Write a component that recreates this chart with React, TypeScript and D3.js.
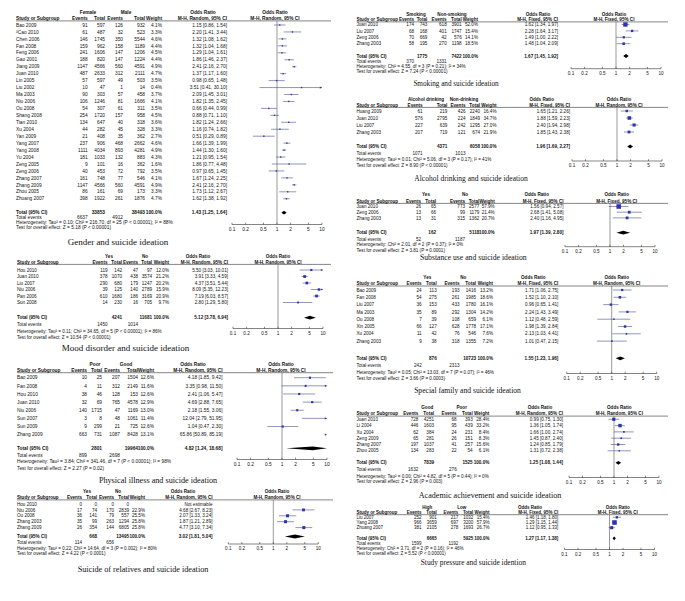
import React from "react";
import * as d3 from "d3";

type Row = [string, number, number, number, number, number | null, number | null, number | null, number | null];

// ---------- DATA ----------
const TICK_VALUES = [0.1, 0.2, 0.5, 1, 2, 5, 10];
const TICK_LABELS = ["0.1", "0.2", "0.5", "1", "2", "5", "10"];

const genderRows: Row[] = [
  ["Bao 2009", 91, 597, 126, 932, 4.1, 1.15, 0.86, 1.54],
  ["ªCao 2010", 61, 487, 32, 523, 3.3, 2.2, 1.41, 3.44],
  ["Chen 2006", 146, 1745, 350, 5544, 4.6, 1.32, 1.08, 1.62],
  ["Fan 2008", 159, 962, 158, 1189, 4.4, 1.32, 1.04, 1.68],
  ["Feng 2006", 241, 1606, 147, 1206, 4.5, 1.29, 1.04, 1.61],
  ["Gao 2001", 188, 820, 147, 1224, 4.4, 1.86, 1.46, 2.37],
  ["Jiang 2009", 1147, 4566, 560, 4591, 4.9, 2.41, 2.16, 2.7],
  ["Juan 2010", 487, 2633, 312, 2111, 4.7, 1.37, 1.17, 1.6],
  ["Lin 2005", 57, 597, 49, 503, 3.5, 0.98, 0.65, 1.48],
  ["Liu 2002", 10, 47, 1, 14, 0.4, 3.51, 0.41, 30.1],
  ["Ma 2003", 90, 303, 57, 458, 3.7, 2.09, 1.45, 3.01],
  ["Niu 2006", 106, 1246, 81, 1666, 4.1, 1.82, 1.35, 2.45],
  ["Ou 2008", 54, 307, 61, 311, 3.5, 0.66, 0.44, 0.99],
  ["Shang 2008", 254, 1720, 157, 958, 4.5, 0.88, 0.71, 1.1],
  ["Tian 2010", 134, 647, 40, 318, 3.6, 1.82, 1.24, 2.66],
  ["Xu 2004", 44, 282, 45, 328, 3.3, 1.16, 0.74, 1.82],
  ["Yan 2009", 21, 408, 35, 362, 2.7, 0.51, 0.29, 0.89],
  ["Yang 2007", 237, 906, 468, 2662, 4.6, 1.66, 1.39, 1.99],
  ["Yang 2008", 1111, 4034, 893, 4281, 4.9, 1.44, 1.3, 1.6],
  ["Yu 2004", 181, 1033, 132, 883, 4.3, 1.21, 0.95, 1.54],
  ["Zeng 2005", 9, 101, 16, 362, 1.6, 1.86, 0.77, 4.48],
  ["Zeng 2006", 40, 453, 72, 792, 3.5, 0.97, 0.65, 1.45],
  ["Zhang 2007", 161, 748, 77, 546, 4.1, 1.67, 1.24, 2.25],
  ["Zhang 2009", 1147, 4566, 560, 4591, 4.9, 2.41, 2.16, 2.7],
  ["Zhou 2005", 86, 161, 69, 173, 3.3, 1.73, 1.12, 2.67],
  ["Zhuang 2007", 398, 1922, 261, 1876, 4.7, 1.62, 1.38, 1.92],
];
const genderTotal = [33853, 38493, 1.43, 1.25, 1.64];
const genderEvents = [6637, 4912];
const genderStats = [
  "Heterogeneity: Tau² = 0.10; Chi² = 216.70, df = 25 (P < 0.00001); I² = 88%",
  "Test for overall effect: Z = 5.18 (P < 0.00001)",
];

const moodRows: Row[] = [
  ["Hou 2010", 119, 142, 47, 97, 12.0, 5.5, 3.03, 10.01],
  ["Juan 2010", 378, 1070, 438, 3574, 21.2, 3.91, 3.33, 4.59],
  ["Liu 2007", 290, 680, 179, 1247, 20.2, 4.37, 3.51, 5.44],
  ["Niu 2006", 39, 125, 140, 2789, 15.9, 8.09, 5.35, 12.23],
  ["Pan 2006", 610, 1680, 186, 3169, 20.9, 7.19, 6.03, 8.57],
  ["Sun 2008", 14, 230, 16, 705, 9.7, 2.8, 1.29, 5.8],
];
const moodTotal = [4241, 11681, 5.12, 3.78, 6.94];
const moodEvents = [1450, 1014];
const moodStats = [
  "Heterogeneity: Tau² = 0.11; Chi² = 34.65, df = 5 (P < 0.00001); I² = 86%",
  "Test for overall effect: Z = 10.54 (P < 0.00001)",
];

const physRows: Row[] = [
  ["Bao 2009", 10, 25, 207, 1504, 12.6, 4.18, 1.85, 9.42],
  ["Fan 2008", 4, 11, 312, 2149, 11.6, 3.35, 0.98, 11.5],
  ["Hou 2010", 38, 46, 128, 153, 12.6, 2.41, 1.06, 5.47],
  ["Juan 2010", 32, 69, 765, 4578, 12.9, 4.69, 2.88, 7.65],
  ["Niu 2006", 140, 1715, 47, 1169, 13.0, 2.18, 1.55, 3.06],
  ["Sun 2007", 3, 8, 48, 1061, 11.4, 12.04, 2.79, 51.95],
  ["Sun 2009", 9, 299, 21, 725, 12.6, 1.04, 0.47, 2.3],
  ["Zhang 2009", 663, 731, 1087, 8428, 13.1, 65.86, 50.89, 85.19],
];
const physTotal = [2801, 19964, 4.82, 1.24, 18.68];
const physEvents = [899, 2698];
const physStats = [
  "Heterogeneity: Tau² = 3.84; Chi² = 341.46, df = 7 (P < 0.00001); I² = 98%",
  "Test for overall effect: Z = 2.27 (P = 0.02)",
];

const relRows: Row[] = [
  ["Hou 2010", 0, 0, 0, 0, null, null, null, null],
  ["Niu 2006", 17, 74, 170, 2839, 22.9, 4.68, 2.67, 8.23],
  ["Ou 2008", 36, 141, 79, 557, 25.5, 2.07, 1.33, 3.24],
  ["Zhang 2003", 35, 99, 263, 1294, 25.8, 1.87, 1.21, 2.89],
  ["Zhang 2009", 26, 354, 144, 6805, 25.8, 4.77, 3.1, 7.34],
];
const relTotal = [668, 13495, 3.02, 1.81, 5.04];
const relEvents = [114, 656];
const relStats = [
  "Heterogeneity: Tau² = 0.22; Chi² = 14.64, df = 3 (P = 0.002); I² = 80%",
  "Test for overall effect: Z = 4.22 (P < 0.0001)",
];

const smokeRows: Row[] = [
  ["Juan 2010", 174, 743, 618, 3901, 52.0, 1.62, 1.34, 1.97],
  ["Liu 2007", 68, 168, 401, 1747, 15.4, 2.28, 1.64, 3.17],
  ["Zeng 2006", 70, 669, 42, 576, 14.1, 1.49, 1.0, 2.22],
  ["Zhang 2003", 58, 195, 270, 1198, 18.5, 1.48, 1.04, 2.09],
];
const smokeTotal = [1775, 7422, 1.67, 1.45, 1.92];
const smokeEvents = [370, 1331];
const smokeStats = [
  "Heterogeneity: Chi² = 4.55, df = 3 (P = 0.21); I² = 34%",
  "Test for overall effect: Z = 7.24 (P < 0.00001)",
];

const alcRows: Row[] = [
  ["Huang 2009", 61, 219, 426, 2240, 16.4, 1.65, 1.21, 2.26],
  ["Juan 2010", 576, 2795, 224, 1849, 34.7, 1.88, 1.59, 2.23],
  ["Liu 2007", 227, 639, 242, 1295, 27.0, 2.4, 1.94, 2.98],
  ["Zhang 2003", 207, 719, 121, 674, 21.9, 1.85, 1.43, 2.38],
];
const alcTotal = [4371, 6058, 1.96, 1.69, 2.27];
const alcEvents = [1071, 1013];
const alcStats = [
  "Heterogeneity: Tau² = 0.01; Chi² = 5.06, df = 3 (P = 0.17); I² = 41%",
  "Test for overall effect: Z = 8.90 (P < 0.00001)",
];

const subRows: Row[] = [
  ["Juan 2010", 26, 65, 773, 2577, 57.9, 1.56, 0.94, 2.57],
  ["Zeng 2006", 13, 66, 99, 1179, 21.4, 2.68, 1.41, 5.08],
  ["Zhang 2003", 13, 31, 315, 1362, 20.7, 2.4, 1.16, 4.95],
];
const subTotal = [162, 5118, 1.97, 1.39, 2.8];
const subEvents = [52, 1187];
const subStats = [
  "Heterogeneity: Chi² = 2.01, df = 2 (P = 0.37); I² = 0%",
  "Test for overall effect: Z = 3.81 (P = 0.0001)",
];

const famRows: Row[] = [
  ["Bao 2009", 24, 113, 193, 1416, 13.2, 1.71, 1.06, 2.75],
  ["Fan 2008", 54, 275, 261, 1985, 18.6, 1.52, 1.1, 2.1],
  ["Liu 2007", 36, 153, 433, 1780, 16.1, 0.96, 0.65, 1.41],
  ["Ma 2003", 35, 89, 292, 1304, 14.2, 2.24, 1.43, 3.49],
  ["Ou 2008", 7, 39, 108, 659, 6.1, 1.12, 0.48, 2.59],
  ["Xin 2005", 66, 127, 628, 1778, 17.1, 1.98, 1.39, 2.84],
  ["Xu 2004", 11, 42, 76, 546, 7.6, 2.13, 1.03, 4.41],
  ["Zhang 2003", 9, 38, 318, 1355, 7.2, 1.01, 0.47, 2.15],
];
const famTotal = [876, 10723, 1.55, 1.23, 1.96];
const famEvents = [242, 2313];
const famStats = [
  "Heterogeneity: Tau² = 0.05; Chi² = 13.03, df = 7 (P = 0.07); I² = 46%",
  "Test for overall effect: Z = 3.66 (P = 0.0003)",
];

const acadRows: Row[] = [
  ["Juan 2010", 728, 4251, 68, 393, 28.4, 0.99, 0.75, 1.3],
  ["Li 2004", 446, 1603, 95, 439, 33.2, 1.36, 1.05, 1.74],
  ["Xu 2004", 62, 384, 24, 231, 8.4, 1.66, 1.0, 2.74],
  ["Zeng 2009", 65, 281, 26, 151, 8.3, 1.45, 0.87, 2.4],
  ["Zhang 2007", 197, 1037, 41, 257, 15.6, 1.24, 0.85, 1.79],
  ["Zhou 2005", 134, 283, 22, 54, 6.1, 1.31, 0.72, 2.38],
];
const acadTotal = [7839, 1525, 1.25, 1.08, 1.44];
const acadEvents = [1632, 276];
const acadStats = [
  "Heterogeneity: Tau² = 0.00; Chi² = 4.82, df = 5 (P = 0.44); I² = 0%",
  "Test for overall effect: Z = 2.96 (P = 0.003)",
];

const studyRows: Row[] = [
  ["Liu 2007", 252, 901, 217, 1032, 15.4, 1.46, 1.18, 1.8],
  ["Yang 2008", 966, 3659, 697, 3200, 57.9, 1.29, 1.15, 1.44],
  ["Zhuang 2007", 381, 2105, 278, 1693, 26.7, 1.12, 0.95, 1.33],
];
const studyTotal = [6665, 5925, 1.27, 1.17, 1.38];
const studyEvents = [1599, 1192];
const studyStats = [
  "Heterogeneity: Chi² = 3.71, df = 2 (P = 0.16); I² = 46%",
  "Test for overall effect: Z = 5.52 (P < 0.00001)",
];

const RANDOM = "M-H, Random, 95% CI";
const FIXED = "M-H, Fixed, 95% CI";

// ---------- LAYOUT ----------
type Layout = {
  nameX: number; g1: number; g2: number; e1: number; t1: number; e2: number; t2: number;
  w: number; ci: number; ciH: number; pc: number; ph: number; ulEnd: number;
  h1: number; h2: number; row0: number; step: number; total: number; events: number;
  het: number; test: number; title: number; axis: number; titleX: number; titleSize: number; fs: number;
};

const LG: Layout = { nameX: 16, g1: 88, g2: 126, e1: 87.7, t1: 105, e2: 123, t2: 145, w: 162, ci: 227, ciH: 203, pc: 277, ph: 275, ulEnd: 331,
  h1: 12, h2: 18.5, row0: 25, step: 6.95, total: 212.7, events: 217.7, het: 222.7, test: 227.7, title: 242.3, axis: 224.5, titleX: 118, titleSize: 9, fs: 4.8 };
const LM: Layout = { nameX: 17, g1: 109, g2: 145, e1: 107.5, t1: 122, e2: 138, t2: 152, w: 169, ci: 228, ciH: 198, pc: 278, ph: 278, ulEnd: 331,
  h1: 256, h2: 262, row0: 270, step: 6.5, total: 317.7, events: 324.3, het: 331, test: 337.7, title: 347.5, axis: 328.5, titleX: 125.5, titleSize: 9, fs: 4.6 };
const LP: Layout = { nameX: 17, g1: 95, g2: 126, e1: 87, t1: 102, e2: 120, t2: 138, w: 154, ci: 222.5, ciH: 193, pc: 282, ph: 281, ulEnd: 333,
  h1: 364, h2: 370.3, row0: 377.7, step: 8.14, total: 448.3, events: 455, het: 461.7, test: 468.7, title: 480.5, axis: 459.5, titleX: 158, titleSize: 8.2, fs: 4.8 };
const LR: Layout = { nameX: 17, g1: 87, g2: 118, e1: 82, t1: 97, e2: 114, t2: 129, w: 145, ci: 212.5, ciH: 183, pc: 273.3, ph: 277, ulEnd: 333,
  h1: 491, h2: 497.5, row0: 504, step: 5.9, total: 536.5, events: 542.5, het: 548, test: 553.5, title: 569, axis: 544, titleX: 143, titleSize: 8.2, fs: 4.6 };
const LS: Layout = { nameX: 356.5, g1: 416, g2: 452, e1: 414, t1: 427.3, e2: 446.7, t2: 461.7, w: 478, ci: 558, ciH: 538, pc: 616, ph: 614, ulEnd: 668,
  h1: 14, h2: 19.5, row0: 24.5, step: 6.4, total: 56, events: 61.7, het: 66.7, test: 71.7, title: 83, axis: 68.7, titleX: 456, titleSize: 7.2, fs: 4.6 };
const LA: Layout = { nameX: 356.5, g1: 426, g2: 464, e1: 422.7, t1: 447.3, e2: 465.5, t2: 480, w: 496.5, ci: 570, ciH: 541.7, pc: 617, ph: 619, ulEnd: 668,
  h1: 99, h2: 105, row0: 111, step: 7, total: 146.5, events: 153, het: 159, test: 165, title: 178.5, axis: 161, titleX: 471, titleSize: 7.5, fs: 4.6 };
const LU: Layout = { nameX: 356.5, g1: 426, g2: 465, e1: 421, t1: 436, e2: 465, t2: 479.3, w: 494.7, ci: 563.5, ciH: 536.7, pc: 610, ph: 616.7, ulEnd: 668,
  h1: 194.3, h2: 201, row0: 206.5, step: 5.7, total: 232.7, events: 239, het: 244.7, test: 250.3, title: 257.5, axis: 246.7, titleX: 473.3, titleSize: 7.7, fs: 4.6 };
const LF: Layout = { nameX: 356.5, g1: 427.3, g2: 463.3, e1: 421.7, t1: 436.7, e2: 459.5, t2: 476, w: 493, ci: 558.3, ciH: 533.3, pc: 611.7, ph: 616.7, ulEnd: 668,
  h1: 277.7, h2: 283.6, row0: 290, step: 7.3, total: 358.3, events: 365.1, het: 372, test: 378.5, title: 390.5, axis: 373.5, titleX: 467.5, titleSize: 7.6, fs: 4.6 };
const LC: Layout = { nameX: 356.5, g1: 427.3, g2: 461.7, e1: 418.3, t1: 434, e2: 456.7, t2: 472.7, w: 489.3, ci: 563, ciH: 540, pc: 614, ph: 619.3, ulEnd: 668,
  h1: 407.7, h2: 413.7, row0: 419.3, step: 6.3, total: 462.8, events: 469.6, het: 476, test: 481.7, title: 495, axis: 477.5, titleX: 490, titleSize: 8.1, fs: 4.6 };
const LT: Layout = { nameX: 356.5, g1: 427.3, g2: 461.7, e1: 421.5, t1: 436.7, e2: 458.3, t2: 473.3, w: 489.5, ci: 558.3, ciH: 530, pc: 609.5, ph: 617.7, ulEnd: 668,
  h1: 507.7, h2: 512.3, row0: 517.3, step: 5.2, total: 538.3, events: 543.3, het: 548.3, test: 553.3, title: 562.5, axis: 549.5, titleX: 473.3, titleSize: 7.4, fs: 4.5 };

type PanelDef = {
  rows: Row[]; total: number[]; events: number[]; stats: string[];
  groups: [string, string]; methods: [string, string]; title: string; L: Layout;
};

const PANELS: PanelDef[] = [
  { rows: genderRows, total: genderTotal, events: genderEvents, stats: genderStats, groups: ["Female", "Male"], methods: [RANDOM, RANDOM], title: "Gender and suicide ideation", L: LG },
  { rows: moodRows, total: moodTotal, events: moodEvents, stats: moodStats, groups: ["Yes", "No"], methods: [RANDOM, RANDOM], title: "Mood disorder and suicide ideation", L: LM },
  { rows: physRows, total: physTotal, events: physEvents, stats: physStats, groups: ["Poor", "Good"], methods: [RANDOM, RANDOM], title: "Physical illness and suicide ideation", L: LP },
  { rows: relRows, total: relTotal, events: relEvents, stats: relStats, groups: ["Yes", "No"], methods: [RANDOM, RANDOM], title: "Suicide of relatives and suicide ideation", L: LR },
  { rows: smokeRows, total: smokeTotal, events: smokeEvents, stats: smokeStats, groups: ["Smoking", "Non-smoking"], methods: [FIXED, FIXED], title: "Smoking and suicide ideation", L: LS },
  { rows: alcRows, total: alcTotal, events: alcEvents, stats: alcStats, groups: ["Alcohol drinking", "Non-drinking"], methods: [FIXED, RANDOM], title: "Alcohol drinking and suicide ideation", L: LA },
  { rows: subRows, total: subTotal, events: subEvents, stats: subStats, groups: ["Yes", "No"], methods: [FIXED, FIXED], title: "Substance use and suicide ideation", L: LU },
  { rows: famRows, total: famTotal, events: famEvents, stats: famStats, groups: ["Yes", "No"], methods: [FIXED, RANDOM], title: "Special family and suicide ideation", L: LF },
  { rows: acadRows, total: acadTotal, events: acadEvents, stats: acadStats, groups: ["Good", "Poor"], methods: [RANDOM, RANDOM], title: "Academic achievement and suicide ideation", L: LC },
  { rows: studyRows, total: studyTotal, events: studyEvents, stats: studyStats, groups: ["High", "Low"], methods: [FIXED, FIXED], title: "Study pressure and suicide idention", L: LT },
];

const SQ = "#2b35b0";
const CIL = "#36407e";
const TXT = "#111";

const ci = (o: number, lo: number, hi: number) => `${o.toFixed(2)} [${lo.toFixed(2)}, ${hi.toFixed(2)}]`;

function Panel({ p }: { p: PanelDef }) {
  const L = p.L;
  const fs = L.fs;
  const x = d3.scaleLog().domain([0.1, 10]).range([L.pc - 45, L.pc + 45]);
  const [xa, xb] = x.range();
  const cx = (v: number) => Math.max(xa, Math.min(xb, x(v)));
  const ry = (i: number) => L.row0 + i * L.step;
  const ul = L.h2 + 2.4;
  const T = (props: any) => <text dy="0.35em" fontSize={fs} fill={TXT} {...props} />;
  const arrow = (xe: number, y: number, dir: number, k: string) => (
    <path key={k} d={`M${xe},${y}L${xe - dir * 2.2},${y - 1.1}L${xe - dir * 2.2},${y + 1.1}Z`} fill={CIL} />
  );
  const [tt1, tt2, to, tlo, thi] = p.total;
  const dh = 1.9;
  return (
    <g>
      <T x={L.g1} y={L.h1} textAnchor="middle" fontWeight="bold">{p.groups[0]}</T>
      <T x={L.g2} y={L.h1} textAnchor="middle" fontWeight="bold">{p.groups[1]}</T>
      <T x={L.ciH} y={L.h1} textAnchor="middle" fontWeight="bold">Odds Ratio</T>
      <T x={L.ph} y={L.h1} textAnchor="middle" fontWeight="bold">Odds Ratio</T>
      <T x={L.nameX} y={L.h2} fontWeight="bold">Study or Subgroup</T>
      <T x={L.e1} y={L.h2} textAnchor="end" fontWeight="bold">Events</T>
      <T x={L.t1} y={L.h2} textAnchor="end" fontWeight="bold">Total</T>
      <T x={L.e2} y={L.h2} textAnchor="end" fontWeight="bold">Events</T>
      <T x={L.t2} y={L.h2} textAnchor="end" fontWeight="bold">Total</T>
      <T x={L.w} y={L.h2} textAnchor="end" fontWeight="bold">Weight</T>
      <T x={L.ci} y={L.h2} textAnchor="end" fontWeight="bold">{p.methods[0]}</T>
      <T x={L.ph} y={L.h2} textAnchor="middle" fontWeight="bold">{p.methods[1]}</T>
      <line x1={L.nameX} x2={L.ulEnd} y1={ul} y2={ul} stroke="#333" strokeWidth={0.6} />
      <line x1={x(1)} x2={x(1)} y1={ul} y2={L.axis} stroke="#555" strokeWidth={0.6} />
      {p.rows.map((r, i) => {
        const [name, e1, t1, e2, t2, w, o, lo, hi] = r;
        const y = ry(i);
        const marks: any[] = [];
        if (o != null && lo != null && hi != null && w != null) {
          if (lo > 10) {
            marks.push(arrow(xb, y, 1, "a"));
          } else {
            marks.push(<line key="l" x1={cx(lo)} x2={cx(hi)} y1={y} y2={y} stroke={CIL} strokeWidth={0.55} />);
            if (hi > 10) marks.push(arrow(xb, y, 1, "r"));
            if (lo < 0.1) marks.push(arrow(xa, y, -1, "lft"));
            if (o <= 10 && o >= 0.1) {
              const s = Math.max(1.4, 0.6 * Math.sqrt(w));
              marks.push(<rect key="s" x={x(o) - s / 2} y={y - s / 2} width={s} height={s} fill={SQ} />);
            }
          }
        }
        return (
          <g key={i}>
            <T x={L.nameX} y={y}>{name}</T>
            <T x={L.e1} y={y} textAnchor="end">{e1}</T>
            <T x={L.t1} y={y} textAnchor="end">{t1}</T>
            <T x={L.e2} y={y} textAnchor="end">{e2}</T>
            <T x={L.t2} y={y} textAnchor="end">{t2}</T>
            <T x={L.w} y={y} textAnchor="end">{w != null ? `${w.toFixed(1)}%` : ""}</T>
            <T x={L.ci} y={y} textAnchor="end">{o != null ? ci(o, lo as number, hi as number) : "Not estimable"}</T>
            {marks}
          </g>
        );
      })}
      <T x={L.nameX} y={L.total} fontWeight="bold">Total (95% CI)</T>
      <T x={L.t1} y={L.total} textAnchor="end" fontWeight="bold">{tt1}</T>
      <T x={L.t2} y={L.total} textAnchor="end" fontWeight="bold">{tt2}</T>
      <T x={L.w} y={L.total} textAnchor="end" fontWeight="bold">100.0%</T>
      <T x={L.ci} y={L.total} textAnchor="end" fontWeight="bold">{ci(to, tlo, thi)}</T>
      <polygon
        points={`${cx(tlo)},${L.total} ${x(to)},${L.total - dh} ${cx(thi)},${L.total} ${x(to)},${L.total + dh}`}
        fill="#000"
      />
      <T x={L.nameX} y={L.events}>Total events</T>
      <T x={L.e1} y={L.events} textAnchor="end">{p.events[0]}</T>
      <T x={L.e2} y={L.events} textAnchor="end">{p.events[1]}</T>
      <T x={L.nameX} y={L.het}>{p.stats[0]}</T>
      <T x={L.nameX} y={L.test}>{p.stats[1]}</T>
      <line x1={xa} x2={xb} y1={L.axis} y2={L.axis} stroke="#333" strokeWidth={0.6} />
      {TICK_VALUES.map((v, i) => (
        <g key={i}>
          <line x1={x(v)} x2={x(v)} y1={L.axis - 1.8} y2={L.axis} stroke="#333" strokeWidth={0.6} />
          <T x={x(v)} y={L.axis + 4.6} textAnchor="middle">{TICK_LABELS[i]}</T>
        </g>
      ))}
      <text
        x={L.titleX}
        y={L.title}
        dy="0.35em"
        textAnchor="middle"
        fontFamily="'Liberation Serif', 'Times New Roman', serif"
        fontSize={L.titleSize}
        fill="#111"
      >
        {p.title}
      </text>
    </g>
  );
}

export default function App() {
  return (
    <svg
      width={685}
      height={601}
      style={{ position: "absolute", left: 0, top: 0, background: "#fff" }}
      fontFamily="'Liberation Sans', Arial, sans-serif"
    >
      <rect width={685} height={601} fill="#fff" />
      {PANELS.map((p, i) => (
        <Panel key={i} p={p} />
      ))}
    </svg>
  );
}
